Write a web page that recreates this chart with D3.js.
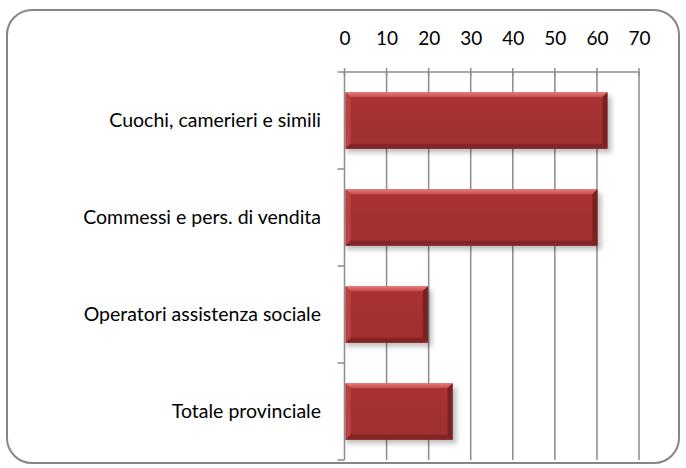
<!DOCTYPE html>
<html>
<head>
<meta charset="utf-8">
<script src="https://cdn.jsdelivr.net/npm/d3@7/dist/d3.min.js"></script>
<style>
  body { margin: 0; background: #fff; }
  text { font-family: Lato, "Open Sans", sans-serif; fill: #000; }
</style>
</head>
<body>
<div id="chart"></div>
<script>
// values
var categories = ["Cuochi, camerieri e simili", "Commessi e pers. di vendita", "Operatori assistenza sociale", "Totale provinciale"];
var values = [62.5, 60.1, 19.8, 25.7];
var ticks = [0, 10, 20, 30, 40, 50, 60, 70];

var W = 686, H = 468;
var plotLeft = 344.5, plotRight = 639, plotTop = 72, plotBottom = 460;

var svg = d3.select("#chart").append("svg")
  .attr("width", W).attr("height", H);

// outer frame
svg.append("rect")
  .attr("x", 7).attr("y", 10).attr("width", 672).attr("height", 453)
  .attr("rx", 25).attr("ry", 25)
  .attr("fill", "#fff").attr("stroke", "#868686").attr("stroke-width", 2);

var x = d3.scaleLinear().domain([0, 70]).range([plotLeft, plotRight]);
var y = d3.scaleBand().domain(categories).range([plotTop, plotBottom])
  .paddingInner(0.42).paddingOuter(0.21);

var defs = svg.append("defs");
var grad = defs.append("linearGradient").attr("id", "barFill")
  .attr("x1", 0).attr("y1", 0).attr("x2", 0).attr("y2", 1);
grad.append("stop").attr("offset", "0").attr("stop-color", "#a83333");
grad.append("stop").attr("offset", "1").attr("stop-color", "#a02f2f");

var topGrad = defs.append("linearGradient").attr("id", "topBevel")
  .attr("x1", 0).attr("y1", 0).attr("x2", 0).attr("y2", 1);
topGrad.append("stop").attr("offset", "0").attr("stop-color", "#ec7a7a");
topGrad.append("stop").attr("offset", "1").attr("stop-color", "#c24848");

var blur = defs.append("filter").attr("id", "shadow")
  .attr("x", "-10%").attr("y", "-10%").attr("width", "130%").attr("height", "150%");
blur.append("feGaussianBlur").attr("stdDeviation", 2.5);

// gridlines
svg.append("g").selectAll("line")
  .data(ticks.slice(1))
  .enter().append("line")
    .attr("x1", d => x(d)).attr("x2", d => x(d))
    .attr("y1", plotTop).attr("y2", plotBottom)
    .attr("stroke", "#8c8c8c").attr("stroke-width", 1.5);

// top axis
var xAxis = d3.axisTop(x).tickValues(ticks).tickSize(0).tickPadding(0);
var gx = svg.append("g").attr("transform", "translate(0," + plotTop + ")").call(xAxis);
gx.select(".domain").remove();
gx.selectAll("text").attr("y", -27).attr("font-size", 19).attr("fill", "#000")
  .style("font-family", "Lato, 'Open Sans', sans-serif");
svg.append("line").attr("x1", plotLeft).attr("x2", plotRight).attr("y1", plotTop).attr("y2", plotTop)
  .attr("stroke", "#8c8c8c").attr("stroke-width", 1.5);
svg.append("g").selectAll("line").data(ticks).enter().append("line")
  .attr("x1", d => x(d)).attr("x2", d => x(d))
  .attr("y1", plotTop - 4).attr("y2", plotTop + 4)
  .attr("stroke", "#8c8c8c").attr("stroke-width", 1.5);

// bar shadows
svg.append("g").selectAll("rect")
  .data(values)
  .enter().append("rect")
    .attr("x", x(0) + 2)
    .attr("y", (d, i) => y(categories[i]) + 4)
    .attr("width", d => x(d) - x(0) + 2)
    .attr("height", y.bandwidth())
    .attr("fill", "#000").attr("opacity", 0.25)
    .attr("filter", "url(#shadow)");

// bars with bevel
var bars = svg.append("g").selectAll("g")
  .data(values)
  .enter().append("g");

bars.each(function(d, i) {
  var g = d3.select(this);
  var x0 = x(0) + 1, x1 = x(d), y0 = y(categories[i]), y1 = y0 + y.bandwidth(), b = 5;
  g.append("rect").attr("x", x0).attr("y", y0).attr("width", x1 - x0).attr("height", y1 - y0)
    .attr("fill", "url(#barFill)");
  // top bevel
  g.append("polygon").attr("points", [[x0, y0], [x1, y0], [x1 - b, y0 + b], [x0 + b, y0 + b]].join(" "))
    .attr("fill", "url(#topBevel)");
  // left bevel
  g.append("polygon").attr("points", [[x0, y0], [x0 + b, y0 + b], [x0 + b, y1 - b], [x0, y1]].join(" "))
    .attr("fill", "#bb4242");
  // right bevel
  g.append("polygon").attr("points", [[x1, y0], [x1, y1], [x1 - b, y1 - b], [x1 - b, y0 + b]].join(" "))
    .attr("fill", "#7a2121");
  // bottom bevel
  g.append("polygon").attr("points", [[x0, y1], [x0 + b, y1 - b], [x1 - b, y1 - b], [x1, y1]].join(" "))
    .attr("fill", "#842424");
});

// left axis
svg.append("line").attr("x1", plotLeft).attr("x2", plotLeft).attr("y1", plotTop).attr("y2", plotBottom)
  .attr("stroke", "#8c8c8c").attr("stroke-width", 1.5);
var yTicks = [plotTop].concat(categories.map(c => y(c) - y.step() * y.paddingInner() / 2).slice(1)).concat([plotBottom]);
svg.append("g").selectAll("line").data(yTicks).enter().append("line")
  .attr("x1", plotLeft - 7).attr("x2", plotLeft).attr("y1", d => d).attr("y2", d => d)
  .attr("stroke", "#8c8c8c").attr("stroke-width", 1.5);

// category labels
svg.append("g").selectAll("text")
  .data(categories)
  .enter().append("text")
    .attr("x", 321)
    .attr("y", d => y(d) + y.bandwidth() / 2)
    .attr("dy", "0.35em")
    .attr("text-anchor", "end")
    .attr("font-size", 19.5)
    .text(d => d);
</script>
</body>
</html>
